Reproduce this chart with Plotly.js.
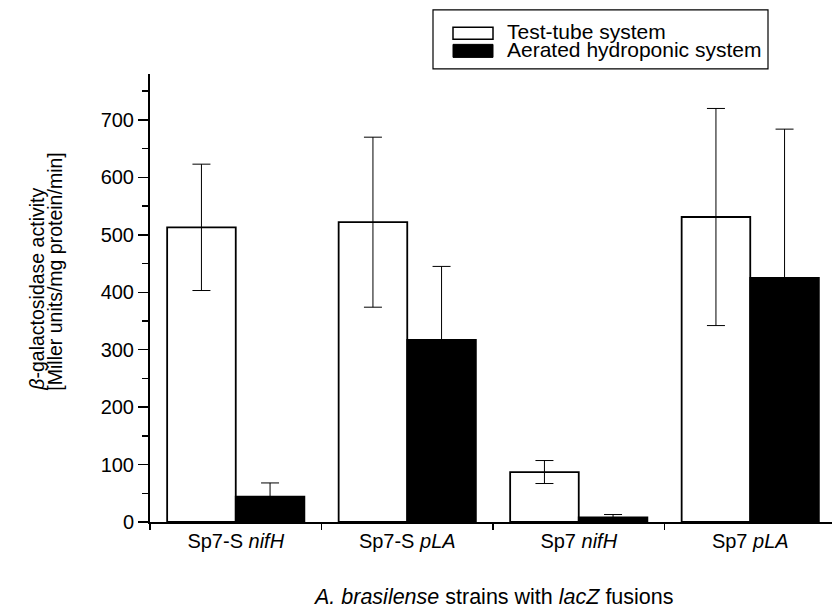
<!DOCTYPE html>
<html>
<head>
<meta charset="utf-8">
<script src="https://cdn.plot.ly/plotly-3.0.1.min.js"></script>
<style>html,body{margin:0;padding:0;background:#fff;}#chart{width:832px;height:610px;}</style>
</head>
<body>
<div id="chart"></div>
<script>
// Data
const categories = ["Sp7-S <i>nifH</i>", "Sp7-S <i>pLA</i>", "Sp7 <i>nifH</i>", "Sp7 <i>pLA</i>"];
const testTubeValues = [513, 522, 87, 531];
const testTubeErrors = [110, 148, 20, 189];
const aeratedValues = [44, 317, 8, 425];
const aeratedErrors = [24, 128, 5, 259];
const seriesNames = ["Test-tube system", "Aerated hydroponic system"];
const yTitleLine1 = "<i>β</i>-galactosidase activity";
const yTitleLine2 = "[Miller units/mg protein/min]";
const xTitle = "<i>A. brasilense</i> strains with <i>lacZ</i> fusions";

const FONT = "Arial, 'Liberation Sans', Helvetica, sans-serif";

const traces = [
  {
    type: "bar", name: seriesNames[0], x: categories, y: testTubeValues,
    marker: {color: "#ffffff", line: {color: "#000000", width: 1.8}},
    error_y: {type: "data", array: testTubeErrors, visible: true, color: "#000000", thickness: 1, width: 9},
    showlegend: false
  },
  {
    type: "bar", name: seriesNames[1], x: categories, y: aeratedValues,
    marker: {color: "#000000", line: {color: "#000000", width: 1.8}},
    error_y: {type: "data", array: aeratedErrors, visible: true, color: "#000000", thickness: 1, width: 9},
    showlegend: false
  }
];

// plot area in px: x 150..832, y 74..521.7
const L = 150, W = 682, Y0 = 521.7, H = 447.6;
const px = v => (v - L) / W;
const py = v => (Y0 - v) / H;

const layout = {
  width: 832, height: 610,
  margin: {l: L, r: 0, t: Y0 - H, b: 610 - Y0, pad: 0},
  paper_bgcolor: "#ffffff", plot_bgcolor: "#ffffff",
  font: {family: FONT, size: 20, color: "#000"},
  barmode: "group", bargap: 0.2, bargroupgap: 0,
  showlegend: false,
  xaxis: {
    type: "category", range: [-0.5, -0.5 + W / 171.5],
    tickson: "boundaries", ticks: "outside", ticklen: 6, tickwidth: 1.5, tickcolor: "#000",
    showline: true, linecolor: "#000", linewidth: 2, showgrid: false, zeroline: false,
    tickfont: {family: FONT, size: 20, color: "#000"}
  },
  xaxis2: {
    type: "linear", overlaying: "x", anchor: "y", range: [-0.5, -0.5 + W / 171.5],
    tickmode: "array", tickvals: [0.5, 1.5, 2.5], ticks: "inside", ticklen: 6, tickwidth: 1.5, tickcolor: "#000",
    showticklabels: false, showline: false, showgrid: false, zeroline: false
  },
  yaxis: {
    range: [0, 780], dtick: 100, tick0: 0,
    ticks: "outside", ticklen: 10, tickwidth: 1.5, tickcolor: "#000",
    minor: {dtick: 50, ticks: "outside", ticklen: 6, tickwidth: 1.5, tickcolor: "#000", showgrid: false},
    showline: true, linecolor: "#000", linewidth: 2, showgrid: false, zeroline: false,
    tickfont: {family: FONT, size: 20, color: "#000"}
  },
  shapes: [
    {type: "rect", xref: "paper", yref: "paper", x0: px(433), x1: px(768), y0: py(69), y1: py(10),
     line: {color: "#000", width: 1.2}, fillcolor: "rgba(0,0,0,0)"},
    {type: "rect", xref: "paper", yref: "paper", x0: px(453), x1: px(493), y0: py(39.5), y1: py(27.5),
     line: {color: "#000", width: 1.5}, fillcolor: "#fff"},
    {type: "rect", xref: "paper", yref: "paper", x0: px(453), x1: px(493), y0: py(57.5), y1: py(44.5),
     line: {color: "#000", width: 1}, fillcolor: "#000"}
  ],
  annotations: [
    {xref: "paper", yref: "paper", x: px(505), y: py(32), xanchor: "left", yanchor: "middle",
     text: seriesNames[0], showarrow: false, font: {family: FONT, size: 21, color: "#000"}},
    {xref: "paper", yref: "paper", x: px(505), y: py(50), xanchor: "left", yanchor: "middle",
     text: seriesNames[1], showarrow: false, font: {family: FONT, size: 21, color: "#000"}},
    {xref: "paper", yref: "paper", x: px(37), y: py(393), xanchor: "center", yanchor: "bottom",
     textangle: -90, text: yTitleLine1, showarrow: false, font: {family: FONT, size: 19.5, color: "#000"}},
    {xref: "paper", yref: "paper", x: px(55.5), y: py(393), xanchor: "center", yanchor: "bottom",
     textangle: -90, text: yTitleLine2, showarrow: false, font: {family: FONT, size: 19.5, color: "#000"}},
    {xref: "paper", yref: "paper", x: px(493), y: py(597), xanchor: "center", yanchor: "middle",
     text: xTitle, showarrow: false, font: {family: FONT, size: 21.5, color: "#000"}}
  ]
};

Plotly.newPlot("chart", traces, layout, {staticPlot: true, displayModeBar: false});
</script>
</body>
</html>
